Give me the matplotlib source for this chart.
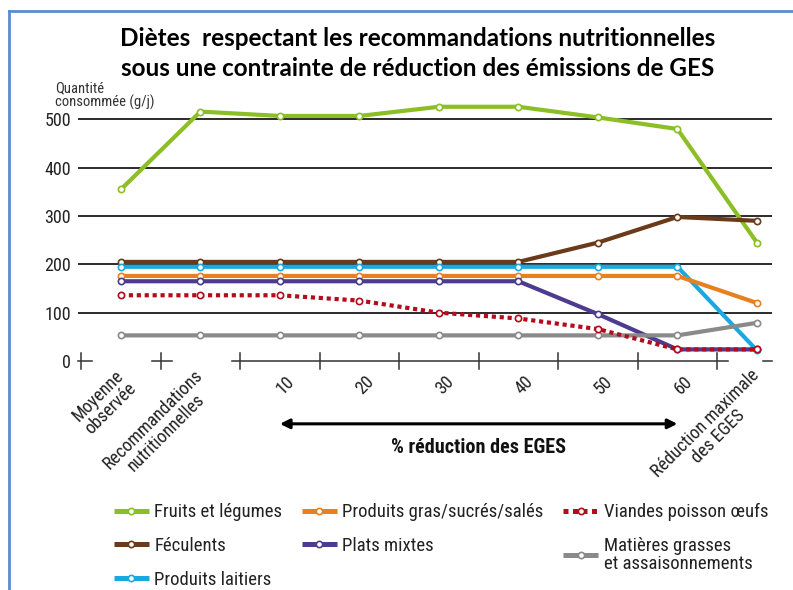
import matplotlib
matplotlib.use("Agg")
import matplotlib.pyplot as plt
from matplotlib import font_manager
from matplotlib.lines import Line2D

# --- data ---
positions = ["Moyenne\nobservée", "Recommandations\nnutritionnelles",
             "10", "20", "30", "40", "50", "60",
             "Réduction maximale\ndes EGES"]

fruits_legumes = [355, 516, 507, 507, 526, 526, 504, 480, 245]
feculents = [205, 205, 205, 205, 205, 205, 245, 298, 290]
produits_laitiers = [195, 195, 195, 195, 195, 195, 195, 195, 22]
produits_gras = [176, 176, 176, 176, 176, 176, 176, 176, 120]
plats_mixtes = [165, 165, 165, 165, 165, 165, 97, 24, 24]
matieres_grasses = [53, 53, 53, 53, 53, 53, 53, 53, 79]
viandes = [136, 136, 136, 125, 100, 88, 66, 24, 24]

y_ticks = [0, 100, 200, 300, 400, 500]

installed = {f.name for f in font_manager.fontManager.ttflist}
cond = next((f for f in ["Liberation Sans Narrow", "Roboto Condensed", "Liberation Sans"]
             if f in installed), "DejaVu Sans")
title_font = "Lato" if "Lato" in installed else "DejaVu Sans"

W, H = 793, 590
fig = plt.figure(figsize=(W / 100, H / 100), dpi=100)


def px_box(x0, y0, x1, y1):
    # pixel box (top-left origin) -> figure fraction
    return [x0 / W, 1 - y1 / H, (x1 - x0) / W, (y1 - y0) / H]


ax = fig.add_axes(px_box(78, 100, 772, 361))
ax.set_xlim(-0.54, 8.19)
ax.set_ylim(0, 540)
for s in ax.spines.values():
    s.set_visible(False)

# grid lines
for v in y_ticks[1:]:
    ax.axhline(v, color="#1a1a1a", lw=1.3, zorder=1)

# broken zero line with crosses
for a, b in [(-0.54, -0.36), (0.39, 0.64), (1.40, 7.64), (8.08, 8.19)]:
    ax.plot([a, b], [0, 0], color="#333333", lw=1.1, clip_on=False, zorder=1)
for t in range(9):
    ax.plot([t - 0.5, t - 0.5], [-16, 16], color="#333333", lw=1.1,
            clip_on=False, zorder=1)

x = list(range(len(positions)))
series = [
    ("Fruits et légumes", fruits_legumes, "#8cbf26", "-"),
    ("Féculents", feculents, "#6b3a1a", "-"),
    ("Produits laitiers", produits_laitiers, "#19a9e0", "-"),
    ("Produits gras/sucrés/salés", produits_gras, "#e8801f", "-"),
    ("Plats mixtes", plats_mixtes, "#4d3b8f", "-"),
    ("Matières grasses\net assaisonnements", matieres_grasses, "#8a8a8a", "-"),
    ("Viandes poisson œufs", viandes, "#b30c1c", (0, (1.0, 0.9))),
]
for label, vals, col, ls in series:
    ax.plot(x, vals, color=col, lw=3.0, ls=ls, solid_capstyle="butt",
            dash_capstyle="butt", marker="o", ms=4.5, mfc="white", mec=col,
            mew=1.2, zorder=3, clip_on=False)

ax.set_xticks([])
ax.set_yticks(y_ticks)
ax.set_yticklabels([str(v) for v in y_ticks], family=cond, fontsize=13,
                   color="#222222")
ax.tick_params(axis="y", length=0, pad=5)

# rotated category labels
for i, lab in enumerate(positions):
    dx = 6 if "\n" in lab else 12
    ax.annotate(lab, xy=(i, 0), xytext=(dx, -18), textcoords="offset pixels",
                rotation=45, rotation_mode="anchor", ha="right", va="center",
                multialignment="center", family=cond, fontsize=13,
                color="#222222", linespacing=1.0, annotation_clip=False)

# reduction arrow
ax.annotate("", xy=(2, -130), xytext=(7, -130),
            arrowprops=dict(arrowstyle="<|-|>", color="black", lw=2.2,
                            mutation_scale=14, shrinkA=0, shrinkB=0),
            annotation_clip=False)
ax.text(4.5, -178, "% réduction des EGES", ha="center", va="center",
        family=cond, fontsize=14.5, fontweight="bold", color="#111111",
        clip_on=False)

# y axis title
fig.text(55 / W, 1 - 81 / H, "Quantité\nconsommée (g/j)", ha="left", va="top",
         family=cond, fontsize=10.5, color="#333333", linespacing=0.95)

# title
fig.text(418 / W, 1 - 39 / H, "Diètes  respectant les recommandations nutritionnelles",
         ha="center", va="center", family=title_font, fontsize=17.5,
         fontweight="bold", color="black")
fig.text(418 / W, 1 - 68 / H, "sous une contrainte de réduction des émissions de GES",
         ha="center", va="center", family=title_font, fontsize=17.5,
         fontweight="bold", color="black")

# legend
order = [0, 1, 2, 3, 4, 6, 5]
handles = []
for k in order:
    label, vals, col, ls = series[k]
    handles.append(Line2D([], [], color=col, lw=3.6, ls=ls, marker="o", ms=4.5,
                          mfc="white", mec=col, mew=1.2, solid_capstyle="butt",
                          dash_capstyle="butt", label=label))
leg = fig.legend(handles=handles, ncol=3, loc="upper left",
                 bbox_to_anchor=(114 / W, 1 - 503 / H), frameon=False,
                 prop=dict(family=cond, size=13.5), handlelength=1.85,
                 handletextpad=0.3, columnspacing=1.05, labelspacing=0.85,
                 borderpad=0, borderaxespad=0, numpoints=1)
for t in leg.get_texts():
    t.set_color("#222222")
    t.set_linespacing(1.0)

# blue frame lines
fig.add_artist(Line2D([9 / W, 9 / W], [0, 1 - 11 / H], color="#5b8bd0", lw=2.0))
fig.add_artist(Line2D([9 / W, 1], [1 - 11 / H, 1 - 11 / H], color="#5b8bd0", lw=2.0))

fig.savefig("out.png", dpi=100, facecolor="white")
